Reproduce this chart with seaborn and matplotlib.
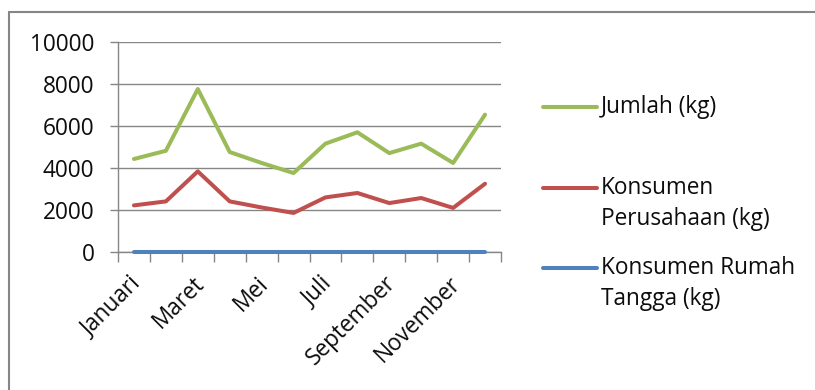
import pandas as pd
import matplotlib.pyplot as plt
import matplotlib.transforms as mtransforms
from matplotlib.lines import Line2D
from matplotlib.patches import Rectangle
import seaborn as sns

# data
bulan = ['Januari', 'Februari', 'Maret', 'April', 'Mei', 'Juni',
         'Juli', 'Agustus', 'September', 'Oktober', 'November', 'Desember']
jumlah = [4430, 4820, 7760, 4760, 4240, 3760, 5160, 5700, 4710, 5160, 4240, 6540]
perusahaan = [2220, 2410, 3840, 2410, 2120, 1860, 2600, 2810, 2330, 2570, 2100, 3250]
rumah_tangga = [10, 10, 10, 10, 10, 10, 10, 10, 10, 10, 10, 10]

series_names = ['Jumlah (kg)', 'Konsumen Perusahaan (kg)', 'Konsumen Rumah Tangga (kg)']
legend_lines = [['Jumlah (kg)'], ['Konsumen', 'Perusahaan (kg)'], ['Konsumen Rumah', 'Tangga (kg)']]
colors = {'Jumlah (kg)': '#9BBB59',
          'Konsumen Perusahaan (kg)': '#C0504D',
          'Konsumen Rumah Tangga (kg)': '#4F81BD'}
y_ticks = [0, 2000, 4000, 6000, 8000, 10000]

rows = []
for name, vals in zip(series_names, [jumlah, perusahaan, rumah_tangga]):
    for i, v in enumerate(vals):
        rows.append({'idx': i, 'Bulan': bulan[i], 'Nilai': v, 'Seri': name})
df = pd.DataFrame(rows)

sns.set_theme(style="white")
plt.rcParams['font.family'] = ['Open Sans', 'DejaVu Sans']
GRAY = '#868686'
FS = 16.3
TXT = '#0d0d0d'

fig = plt.figure(figsize=(8.15, 3.9), dpi=100)
ax = fig.add_axes([118 / 815, 1 - 252 / 390, (501 - 118) / 815, 210 / 390])

sns.lineplot(data=df, x='idx', y='Nilai', hue='Seri', hue_order=series_names,
             palette=colors, linewidth=2.9, ax=ax, legend=False,
             solid_capstyle='round', sort=False)
for ln in ax.get_lines():
    ln.set_clip_on(False)
    ln.set_zorder(3)

ax.set_xlim(-0.5, len(bulan) - 0.5)
ax.set_ylim(0, 10000)
ax.set_yticks(y_ticks)
ax.set_yticklabels([str(t) for t in y_ticks], fontsize=FS, color=TXT)
ax.yaxis.grid(True, color=GRAY, linewidth=1.0)
ax.set_axisbelow(True)

# tick mark di batas kategori, label di tengah kategori (setiap dua bulan)
ax.set_xticks([i - 0.5 for i in range(len(bulan) + 1)])
ax.set_xticklabels([])
ax.set_xticks(list(range(0, len(bulan), 2)), minor=True)
ax.set_xticklabels(bulan[::2], minor=True, rotation=45, ha='right',
                   va='top', rotation_mode='anchor', fontsize=FS, color=TXT)
ax.tick_params(axis='x', which='major', direction='out', length=7, width=1, color=GRAY, bottom=True)
ax.tick_params(axis='x', which='minor', length=0, pad=14)
ax.tick_params(axis='y', direction='out', length=6, width=1, color=GRAY, left=True, pad=11)

shift = mtransforms.ScaledTranslation(-5 / 100, 0, fig.dpi_scale_trans)
for lbl in ax.get_xticklabels(minor=True):
    lbl.set_transform(lbl.get_transform() + shift)

ax.set_xlabel('')
ax.set_ylabel('')
for side in ['top', 'right']:
    ax.spines[side].set_visible(False)
for side in ['left', 'bottom']:
    ax.spines[side].set_color(GRAY)
    ax.spines[side].set_linewidth(1.0)

# legenda manual (handle sejajar baris pertama seperti Excel)
leg_y = [107, 188, 268]
for name, lines, yp in zip(series_names, legend_lines, leg_y):
    fig.add_artist(Line2D([543 / 815, 597 / 815], [1 - yp / 390] * 2,
                          color=colors[name], linewidth=2.9, solid_capstyle='round'))
    for k, txt in enumerate(lines):
        fig.text(601 / 815, 1 - (yp + 31 * k) / 390, txt, fontsize=FS,
                 va='center', ha='left', color=TXT)

# bingkai chart
fig.add_artist(Rectangle((9 / 815, -0.1), 806 / 815 + 0.05, 1.1 - 12 / 390,
                         fill=False, edgecolor=GRAY, linewidth=1.5,
                         transform=fig.transFigure))

fig.savefig('out.png', dpi=100, facecolor='white')
